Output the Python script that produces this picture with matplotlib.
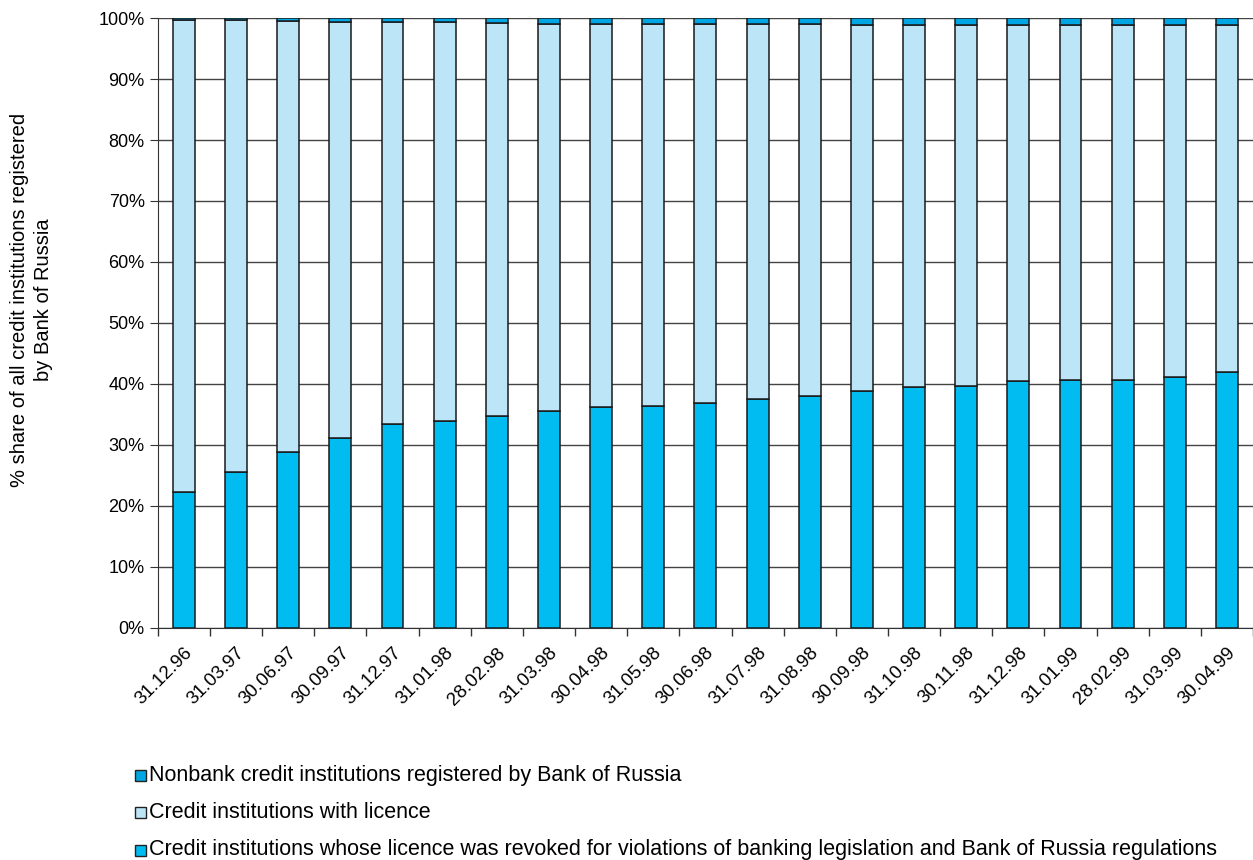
import numpy as np
import matplotlib
matplotlib.use("Agg")
import matplotlib.pyplot as plt
from matplotlib.ticker import PercentFormatter, FixedLocator

plt.rcParams['font.family'] = ['Liberation Sans', 'DejaVu Sans']

dates = ["31.12.96", "31.03.97", "30.06.97", "30.09.97", "31.12.97", "31.01.98",
         "28.02.98", "31.03.98", "30.04.98", "31.05.98", "30.06.98", "31.07.98",
         "31.08.98", "30.09.98", "31.10.98", "30.11.98", "31.12.98", "31.01.99",
         "28.02.99", "31.03.99", "30.04.99"]

# % shares
revoked = [22.2, 25.5, 28.8, 31.2, 33.5, 33.9, 34.8, 35.5, 36.2, 36.4, 36.8,
           37.6, 38.0, 38.8, 39.5, 39.7, 40.5, 40.6, 40.6, 41.2, 42.0]
nonbank = [0.35, 0.35, 0.5, 0.6, 0.7, 0.7, 0.8, 0.9, 1.0, 0.9, 1.0,
           1.0, 1.0, 1.1, 1.1, 1.15, 1.15, 1.15, 1.2, 1.2, 1.2]
licence = [100 - r - n for r, n in zip(revoked, nonbank)]

labels = ["Nonbank credit institutions registered by Bank of Russia",
          "Credit institutions with licence",
          "Credit institutions whose licence was revoked for violations of banking legislation and Bank of Russia regulations"]
c_nonbank = "#00a6e4"
c_licence = "#bce5f8"
c_revoked = "#00bcf0"

fig = plt.figure(figsize=(12.53, 8.6), dpi=100)
ax = fig.add_axes([0.126, 0.27, 0.874, 0.709])

x = np.arange(len(dates))
w = 0.42
ax.bar(x, revoked, w, color=c_revoked, edgecolor="#1a1a1a", linewidth=1.1, zorder=3)
ax.bar(x, licence, w, bottom=revoked, color=c_licence, edgecolor="#1a1a1a", linewidth=1.1, zorder=3)
bot2 = [r + l for r, l in zip(revoked, licence)]
ax.bar(x, nonbank, w, bottom=bot2, color=c_nonbank, edgecolor="#1a1a1a", linewidth=1.1, zorder=3)

ax.set_ylim(0, 100)
ax.set_xlim(-0.5, len(dates) - 0.5)
ax.yaxis.set_major_locator(FixedLocator(np.arange(0, 101, 10)))
ax.yaxis.set_major_formatter(PercentFormatter(decimals=0))
ax.grid(axis="y", color="#444444", linewidth=1.0, zorder=0)

ax.set_xticks(x)
ax.set_xticklabels(dates, rotation=45, ha="right", rotation_mode="anchor", fontsize=13.5)
ax.tick_params(axis="x", length=0, pad=12)
ax.set_xticks(np.arange(-0.5, len(dates), 1), minor=True)
ax.tick_params(axis="x", which="minor", length=6, width=1, color="#333333")
ax.tick_params(axis="y", labelsize=13, length=6, color="#333333")

for s in ["top", "right"]:
    ax.spines[s].set_visible(False)
ax.spines["left"].set_color("#333333")
ax.spines["bottom"].set_color("#333333")

fig.text(0.025, 0.651, "% share of all credit institutions registered\nby Bank of Russia",
         fontsize=14.5, rotation=90, ha="center", va="center", multialignment="center",
         linespacing=1.35)

# legend, one entry per row under the axes
colors = [c_nonbank, c_licence, c_revoked]
ys = [1 - 775 / 860, 1 - 812 / 860, 1 - 850 / 860]
for lab, col, yy in zip(labels, colors, ys):
    fig.patches.append(plt.Rectangle((0.108, yy - 0.0065), 0.0085, 0.0125, transform=fig.transFigure,
                                     facecolor=col, edgecolor="#222222", linewidth=1.0))
    fig.text(0.119, yy, lab, fontsize=15.5, va="center", ha="left")

fig.savefig("out.png", dpi=100)
